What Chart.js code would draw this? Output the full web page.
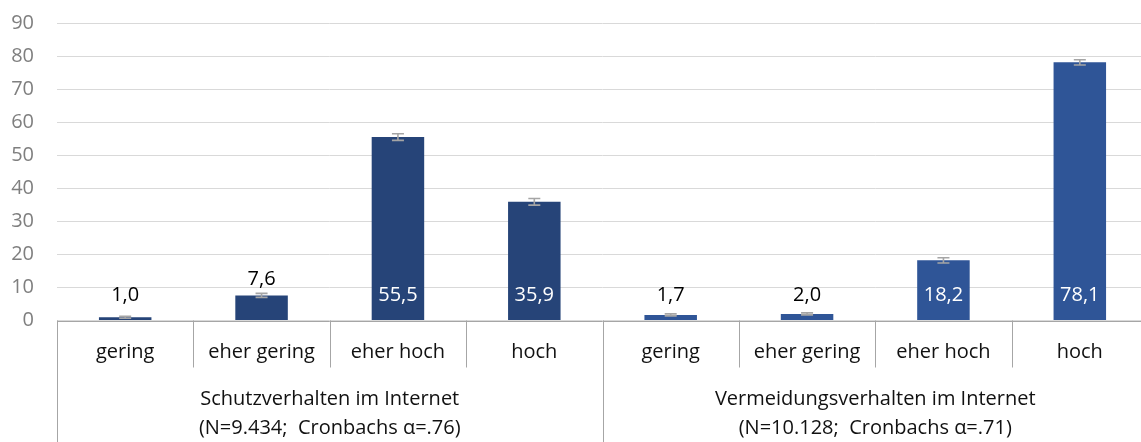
<!DOCTYPE html>
<html lang="de">
<head>
<meta charset="utf-8">
<title>Schutz- und Vermeidungsverhalten im Internet</title>
<script src="https://cdn.jsdelivr.net/npm/chart.js@4.4.1/dist/chart.umd.min.js"></script>
<style>
  html, body { margin: 0; padding: 0; background: #fff; overflow: hidden; }
  #wrap { width: 1150px; height: 442px; }
</style>
</head>
<body>
<div id="wrap"><canvas id="chart" width="1150" height="442"></canvas></div>
<script>
'use strict';

/* ============================================================
   DATA
   ============================================================ */
var categories       = ['gering', 'eher gering', 'eher hoch', 'hoch',
                        'gering', 'eher gering', 'eher hoch', 'hoch'];
var groupTitles      = ['Schutzverhalten im Internet', 'Vermeidungsverhalten im Internet'];
var groupNotes       = ['(N=9.434;  Cronbachs \u03b1=.76)', '(N=10.128;  Cronbachs \u03b1=.71)'];
var schutzValues     = [1.0, 7.6, 55.5, 35.9];
var vermeidungValues = [1.7, 2.0, 18.2, 78.1];
var schutzErrors     = [0.3, 0.6, 1.0, 1.0];
var vermeidungErrors = [0.3, 0.3, 0.8, 0.8];
var yTicks           = [0, 10, 20, 30, 40, 50, 60, 70, 80, 90];

var values = schutzValues.concat(vermeidungValues);
var errors = schutzErrors.concat(vermeidungErrors);

/* ============================================================
   STYLE
   ============================================================ */
var FONT       = "'Open Sans', 'Noto Sans', sans-serif";
var COL_SCHUTZ = '#264478';
var COL_VERM   = '#2F5597';
var COL_AXIS   = '#a6a6a6';
var COL_TEXT   = '#111111';

function fmt(v) { return v.toFixed(1).replace('.', ','); }

/* ============================================================
   PLUGIN – error bars, value labels, two-level x axis
   ============================================================ */
var decorPlugin = {
  id: 'decor',
  afterDatasetsDraw: function (chart) {
    var ctx = chart.ctx;
    var x   = chart.scales.x;
    var y   = chart.scales.y;
    var base = y.getPixelForValue(0);

    ctx.save();

    /* error bars */
    ctx.strokeStyle = '#a5a5a5';
    ctx.lineWidth = 1.6;
    values.forEach(function (v, i) {
      var cx = x.getPixelForValue(i);
      var yt = y.getPixelForValue(v + errors[i]);
      var yb = y.getPixelForValue(v - errors[i]);
      ctx.beginPath();
      ctx.moveTo(cx, yt); ctx.lineTo(cx, yb);
      ctx.moveTo(cx - 6, yt); ctx.lineTo(cx + 6, yt);
      ctx.moveTo(cx - 6, yb); ctx.lineTo(cx + 6, yb);
      ctx.stroke();
    });

    /* value labels */
    ctx.font = '20px ' + FONT;
    ctx.textAlign = 'center';
    ctx.textBaseline = 'middle';
    values.forEach(function (v, i) {
      var cx = x.getPixelForValue(i);
      var inside = v > 10;
      var ly = inside ? base - 25 : Math.min(base - 25, y.getPixelForValue(v + errors[i]) - 14);
      ctx.fillStyle = inside ? '#ffffff' : '#000000';
      ctx.fillText(fmt(v), cx, ly);
    });

    /* category boundaries */
    var step = x.getPixelForValue(1) - x.getPixelForValue(0);
    function edge(i) { return x.getPixelForValue(0) - step / 2 + i * step; }

    ctx.strokeStyle = COL_AXIS;
    ctx.lineWidth = 1;
    ctx.beginPath();
    ctx.moveTo(x.left, Math.round(base) + 0.5);
    ctx.lineTo(x.right, Math.round(base) + 0.5);
    for (var i = 0; i <= categories.length; i++) {
      var ex = Math.round(edge(i)) + 0.5;
      var bottom = (i % 4 === 0) ? chart.height : base + 47;
      ctx.moveTo(ex, base);
      ctx.lineTo(ex, bottom);
    }
    ctx.stroke();

    /* category labels */
    ctx.fillStyle = COL_TEXT;
    categories.forEach(function (c, i) {
      ctx.fillText(c, x.getPixelForValue(i), base + 32);
    });

    /* group labels */
    groupTitles.forEach(function (g, gi) {
      var gx = (edge(gi * 4) + edge(gi * 4 + 4)) / 2;
      ctx.fillText(g, gx, base + 79);
      ctx.fillText(groupNotes[gi], gx, base + 108);
    });

    ctx.restore();
  }
};

/* ============================================================
   CHART
   ============================================================ */
new Chart(document.getElementById('chart'), {
  type: 'bar',
  data: {
    labels: categories,
    datasets: [{
      data: values,
      backgroundColor: values.map(function (_, i) { return i < 4 ? COL_SCHUTZ : COL_VERM; }),
      borderWidth: 0,
      categoryPercentage: 1,
      barPercentage: 0.385
    }]
  },
  options: {
    responsive: false,
    animation: false,
    layout: { padding: { top: 23, right: 2, left: 0, bottom: 0 } },
    plugins: { legend: { display: false }, tooltip: { enabled: false } },
    scales: {
      x: {
        grid: { display: false },
        border: { display: false },
        ticks: { display: false },
        afterFit: function (s) { s.height = 121.5; }
      },
      y: {
        min: 0,
        max: 90,
        afterBuildTicks: function (s) { s.ticks = yTicks.map(function (v) { return { value: v }; }); },
        grid: { color: '#d9d9d9', drawTicks: false },
        border: { display: false },
        ticks: {
          color: '#7f7f7f',
          padding: 23,
          font: { family: FONT, size: 20 }
        },
        afterFit: function (s) {
          s.width = 57;
          s.paddingTop = 0;
          s.paddingBottom = 0;
        }
      }
    }
  },
  plugins: [decorPlugin]
});
</script>
</body>
</html>
